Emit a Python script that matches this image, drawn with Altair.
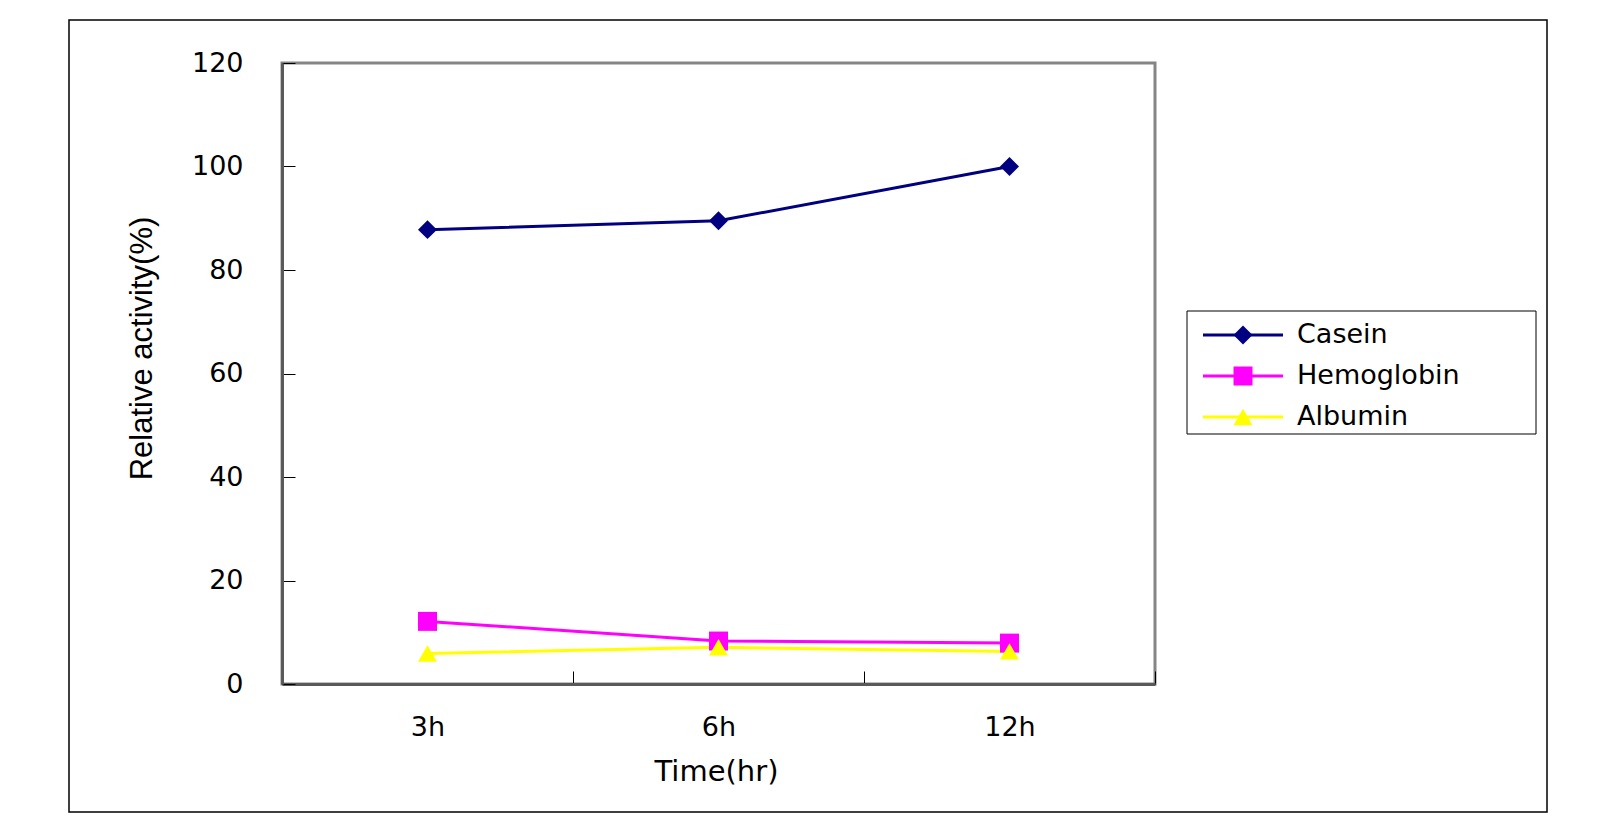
import altair as alt
import pandas as pd

# ---- data ----
times = ["3h", "6h", "12h"]
series = ["Casein", "Hemoglobin", "Albumin"]
casein = [87.8, 89.5, 100.0]
hemoglobin = [12.1, 8.3, 7.9]
albumin = [5.9, 7.1, 6.3]
y_ticks = [0, 20, 40, 60, 80, 100, 120]

colors = ["#000080", "#FF00FF", "#FFFF00"]
shapes = ["diamond", "square", "triangle-up"]

rows = []
for name, vals in zip(series, [casein, hemoglobin, albumin]):
    for t, v in zip(times, vals):
        rows.append({"Time": t, "Series": name, "Value": v})
df = pd.DataFrame(rows)
legend_df = pd.DataFrame({"Series": series})

color_enc = alt.Color("Series:N", scale=alt.Scale(domain=series, range=colors), legend=None)
shape_enc = alt.Shape("Series:N", scale=alt.Scale(domain=series, range=shapes), legend=None)

x_enc = alt.X(
    "Time:N",
    sort=times,
    scale=alt.Scale(type="band", domain=times, paddingInner=0, paddingOuter=0),
    axis=alt.Axis(
        title="Time(hr)",
        labelAngle=0,
        tickBand="extent",
        tickSize={"expr": "-13"},
        labelPadding=64,
        labelBaseline="alphabetic",
        titleFont="DejaVu Sans",
        titleFontSize=29,
        titleFontWeight="normal",
        titleX=434,
        titleY=96,
        titleAlign="center",
        titleBaseline="alphabetic",
    ),
)
y_enc = alt.Y(
    "Value:Q",
    scale=alt.Scale(domain=[0, 120], nice=False),
    axis=alt.Axis(
        values=y_ticks,
        title="Relative activity(%)",
        tickSize={"expr": "-13"},
        labelPadding=52,
        titleFont="Liberation Sans",
        titleFontSize=31,
        titleFontWeight="normal",
        titleAngle=270,
        titleX=-131,
        titleY=285,
        titleAlign="center",
        titleBaseline="alphabetic",
    ),
)

frame = alt.Chart(pd.DataFrame({"f": [0]})).mark_rect(
    filled=False, stroke="black", strokeWidth=1.5
).encode(
    x=alt.value(-213), x2=alt.value(1265), y=alt.value(-43), y2=alt.value(749)
)

base = alt.Chart(df)
lines = base.mark_line(strokeWidth=3).encode(
    x=x_enc, y=y_enc, color=color_enc, detail="Series:N"
)
points = base.mark_point(filled=True, size=360, opacity=1).encode(
    x=x_enc, y=y_enc, color=color_enc, shape=shape_enc
)
main = alt.layer(lines, points)

# ---- legend drawn from the series list ----
ly = alt.Y(
    "Series:N",
    scale=alt.Scale(type="point", domain=series, range=[272, 354], padding=0),
    axis=None,
)
lbase = alt.Chart(legend_df)
lbox = alt.Chart(pd.DataFrame({"f": [0]})).mark_rect(
    fill="white", stroke="black", strokeWidth=1
).encode(x=alt.value(905), x2=alt.value(1254), y=alt.value(248), y2=alt.value(371))
lrules = lbase.mark_rule(strokeWidth=3).encode(
    x=alt.value(921), x2=alt.value(1001), y=ly, color=color_enc
)
lpoints = lbase.mark_point(filled=True, size=360, opacity=1).encode(
    x=alt.value(961), y=ly, color=color_enc, shape=shape_enc
)
ltext = lbase.mark_text(
    align="left", baseline="middle", font="DejaVu Sans", fontSize=27, color="black"
).encode(x=alt.value(1015), y=ly, text="Series:N")
legend = alt.layer(lbox, lrules, lpoints, ltext)

chart = (
    alt.layer(frame, main, legend)
    .resolve_scale(y="independent")
    .properties(
        width=873,
        height=621,
        padding={"left": 274, "top": 55, "right": 438, "bottom": 141},
        autosize=alt.AutoSizeParams(type="none"),
    )
    .configure_view(stroke="#858585", strokeWidth=3)
    .configure_axis(
        grid=False,
        domainColor="#5a5a5a",
        domainWidth=3,
        tickColor="black",
        tickWidth=1,
        labelColor="black",
        labelFont="DejaVu Sans",
        labelFontSize=27,
        titleColor="black",
    )
)

chart.save("out.html", embed_options={"renderer": "svg", "actions": False})
